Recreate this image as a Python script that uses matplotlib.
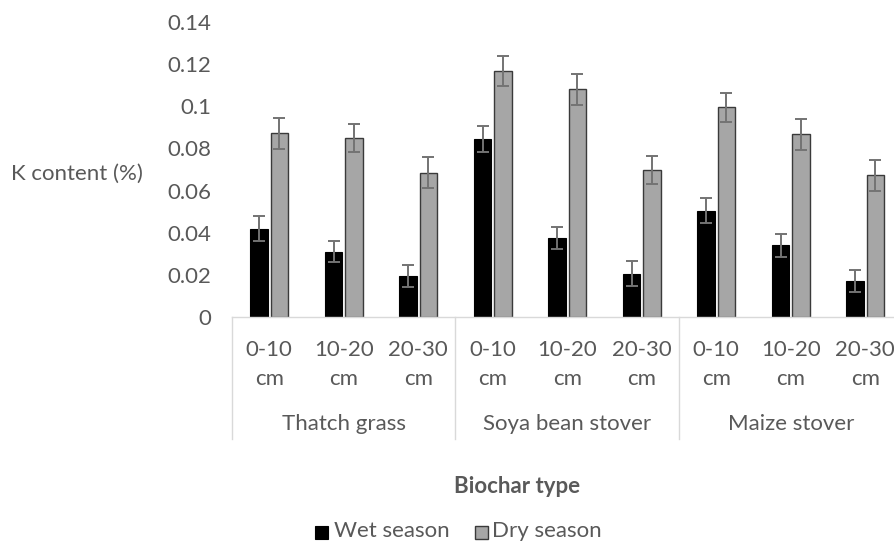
import numpy as np
import matplotlib.pyplot as plt
from matplotlib.patches import Rectangle

plt.rcParams['font.family'] = ['Lato', 'DejaVu Sans']

groups = ['Thatch grass', 'Soya bean stover', 'Maize stover']
depths = ['0-10', '10-20', '20-30']

wet = [0.042, 0.031, 0.0195, 0.0845, 0.0376, 0.0205, 0.0504, 0.034, 0.017]
wet_err = [0.006, 0.005, 0.0052, 0.006, 0.0052, 0.006, 0.006, 0.0053, 0.0053]
dry = [0.0872, 0.085, 0.0684, 0.1166, 0.108, 0.0698, 0.0995, 0.0867, 0.0673]
dry_err = [0.0073, 0.0065, 0.0073, 0.0072, 0.0073, 0.0065, 0.007, 0.0073, 0.0073]

txt = '#595959'
fs = 16
W, H = 894, 542
fig = plt.figure(figsize=(W / 100, H / 100), dpi=100)
ax = fig.add_axes([232 / W, 1 - 317 / H, 670.5 / W, 295 / H])


def fx(px):
    return px / W


def fy(py):
    return 1 - py / H


x = np.arange(len(wet))
bw = 0.235
off = bw / 2 + 0.02
ax.bar(x - off, wet, bw, color='black', edgecolor='black', linewidth=0.8)
ax.bar(x + off, dry, bw, color='#a6a6a6', edgecolor='#3a3a3a', linewidth=1.0)
ekw = dict(fmt='none', ecolor='#737373', elinewidth=1.4, capsize=4.5, capthick=1.4)
ax.errorbar(x - off, wet, yerr=wet_err, **ekw)
ax.errorbar(x + off, dry, yerr=dry_err, **ekw)

ax.set_xlim(-0.5, len(wet) - 0.5)
ax.set_ylim(0, 0.14)
ax.set_yticks(np.arange(0, 0.141, 0.02))
ax.set_yticklabels(['0', '0.02', '0.04', '0.06', '0.08', '0.1', '0.12', '0.14'])
ax.tick_params(axis='y', length=0, pad=15, labelsize=fs, labelcolor=txt)
ax.set_xticks([])
for s in ['top', 'right', 'left']:
    ax.spines[s].set_visible(False)
ax.spines['bottom'].set_color('#d9d9d9')
ax.spines['bottom'].set_linewidth(1)

# category labels below the axis
xpix = ax.transData.transform(np.column_stack([x, np.zeros(len(x))]))[:, 0]
for i in range(len(wet)):
    fig.text(fx(xpix[i]), fy(355.5), depths[i % 3], ha='center', va='baseline',
             fontsize=fs, color=txt)
    fig.text(fx(xpix[i]), fy(385), 'cm', ha='center', va='baseline',
             fontsize=fs, color=txt)
for g, name in enumerate(groups):
    fig.text(fx(xpix[3 * g + 1]), fy(430), name, ha='center', va='baseline',
             fontsize=fs, color=txt)
for b in [-0.5, 2.5, 5.5]:
    bx = ax.transData.transform((b, 0))[0]
    fig.add_artist(plt.Line2D([fx(bx), fx(bx)], [fy(317), fy(439)], color='#d9d9d9', lw=1))

fig.text(fx(11), fy(180), 'K content (%)', ha='left', va='baseline', fontsize=fs, color=txt)
fig.text(fx(517), fy(493), 'Biochar type', ha='center', va='baseline', fontsize=fs,
         fontweight='bold', color=txt)

# legend
fig.patches.append(Rectangle((fx(315), fy(539)), 13 / W, 13 / H, transform=fig.transFigure,
                             facecolor='black', edgecolor='black', lw=0.8))
fig.text(fx(334), fy(537), 'Wet season', ha='left', va='baseline', fontsize=fs, color=txt)
fig.patches.append(Rectangle((fx(475), fy(539)), 13 / W, 13 / H, transform=fig.transFigure,
                             facecolor='#a6a6a6', edgecolor='#3a3a3a', lw=1.0))
fig.text(fx(492), fy(537), 'Dry season', ha='left', va='baseline', fontsize=fs, color=txt)

fig.savefig('out.png', dpi=100)
